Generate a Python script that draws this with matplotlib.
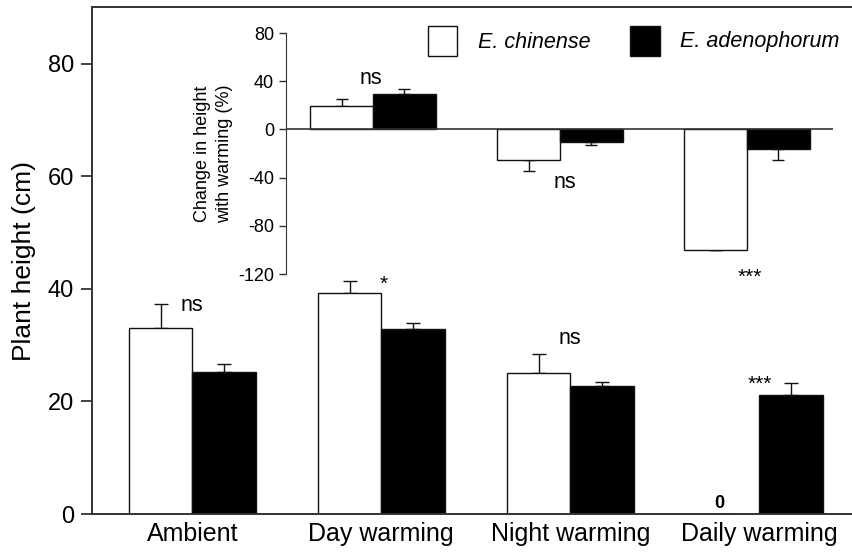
import numpy as np
import matplotlib.pyplot as plt

plt.rcParams['font.family'] = ['Liberation Sans', 'DejaVu Sans']
plt.rcParams['axes.unicode_minus'] = False

groups = ['Ambient', 'Day warming', 'Night warming', 'Daily warming']
chin_h = [33.0, 39.2, 25.0, 0.0]
chin_h_err = [4.3, 2.1, 3.5, 0.0]
aden_h = [25.3, 32.8, 22.8, 21.2]
aden_h_err = [1.4, 1.1, 0.7, 2.1]
main_sig = ['ns', '*', 'ns', '***']

warm_groups = ['Day warming', 'Night warming', 'Daily warming']
chin_pct = [19.4, -25.0, -100.3]
chin_pct_err = [5.6, 9.6, 0.0]
aden_pct = [29.7, -10.3, -16.0]
aden_pct_err = [4.3, 2.2, 9.0]
inset_sig = ['ns', 'ns', '***']

w = 0.335
ec = '#111111'

fig = plt.figure(figsize=(8.52, 5.52), dpi=100)
ax = fig.add_axes([0.108, 0.0688, 0.892, 0.918])
x = np.arange(len(groups))

ax.bar(x - w/2, chin_h, w, color='white', edgecolor=ec, linewidth=1.0, zorder=2)
ax.bar(x + w/2, aden_h, w, color='black', edgecolor=ec, linewidth=1.0, zorder=2)
ax.errorbar(x - w/2, chin_h, yerr=[np.zeros(4), chin_h_err], fmt='none',
            ecolor=ec, elinewidth=1.0, capsize=5, capthick=1.0, zorder=1)
ax.errorbar(x + w/2, aden_h, yerr=[np.zeros(4), aden_h_err], fmt='none',
            ecolor=ec, elinewidth=1.0, capsize=5, capthick=1.0, zorder=1)

# significance labels (baseline positions)
sig_x = [0.0, 0.015, 0.0, 0.0]
sig_y = [36.0, 39.9, 30.2, 22.0]
for i, s in enumerate(main_sig):
    fs = 15.5 if s == 'ns' else 15
    ax.text(x[i] + sig_x[i], sig_y[i], s, ha='center', va='baseline', fontsize=fs)
ax.text(3 - 0.213, 1.0, '0', ha='center', va='baseline', fontsize=13, fontweight='bold')

ax.set_xlim(-0.53, 3.49)
ax.set_ylim(0, 90)
ax.set_yticks([0, 20, 40, 60, 80])
ax.set_xticks(x)
ax.set_xticklabels(groups, fontsize=18)
ax.tick_params(axis='y', labelsize=17, length=8, width=1.3, color='#333333', direction='out', pad=5)
ax.tick_params(axis='x', length=0, pad=6)
ax.set_ylabel('Plant height (cm)', fontsize=19, labelpad=8)
ax.spines['right'].set_visible(False)
for s in ['left', 'top', 'bottom']:
    ax.spines[s].set_linewidth(1.4)
    ax.spines[s].set_color('#333333')

# inset
ins = fig.add_axes([0.3357, 0.5036, 0.642, 0.4364])
xi = np.arange(len(warm_groups))
ins.bar(xi - w/2, chin_pct, w, color='white', edgecolor=ec, linewidth=1.0, zorder=2)
ins.bar(xi + w/2, aden_pct, w, color='black', edgecolor=ec, linewidth=1.0, zorder=2)
for vals, errs, off in [(chin_pct, chin_pct_err, -w/2), (aden_pct, aden_pct_err, w/2)]:
    lo = [e if v < 0 else 0 for v, e in zip(vals, errs)]
    hi = [e if v >= 0 else 0 for v, e in zip(vals, errs)]
    ins.errorbar(xi + off, vals, yerr=[lo, hi], fmt='none', ecolor=ec,
                 elinewidth=1.0, capsize=4, capthick=1.0, zorder=1)
ins.axhline(0, color='#333333', linewidth=1.2, zorder=3)
ins_sig_x = [-0.01, 0.025, 0.015]
ins_sig_y = [37.4, -49.0, -127.2]
for i, s in enumerate(inset_sig):
    fs = 15.5 if s == 'ns' else 15
    ins.text(xi[i] + ins_sig_x[i], ins_sig_y[i], s, ha='center', va='baseline', fontsize=fs)

ins.set_xlim(-0.465, 2.46)
ins.set_ylim(-120, 80)
ins.set_yticks([-120, -80, -40, 0, 40, 80])
ins.set_xticks([])
ins.tick_params(axis='y', labelsize=13, length=5, width=1.0, color='#333333')
ins.set_ylabel('Change in height\nwith warming (%)', fontsize=13, labelpad=4, linespacing=1.35)
for s in ['right', 'top', 'bottom']:
    ins.spines[s].set_visible(False)
ins.spines['left'].set_color('#333333')
ins.spines['left'].set_bounds(-120, 80)
ins.patch.set_alpha(0)

# legend
fig.patches.append(plt.Rectangle((428/852, 1-56/552), 29/852, 30/552, transform=fig.transFigure,
                                 facecolor='white', edgecolor=ec, linewidth=1.0))
fig.patches.append(plt.Rectangle((630/852, 1-56/552), 30/852, 30/552, transform=fig.transFigure,
                                 facecolor='black', edgecolor=ec, linewidth=1.0))
fig.text(478/852, 1-42/552, 'E. chinense', fontsize=15.5, style='italic', va='center')
fig.text(680/852, 1-42/552, 'E. adenophorum', fontsize=15.5, style='italic', va='center')

fig.savefig('out.png', dpi=100)
